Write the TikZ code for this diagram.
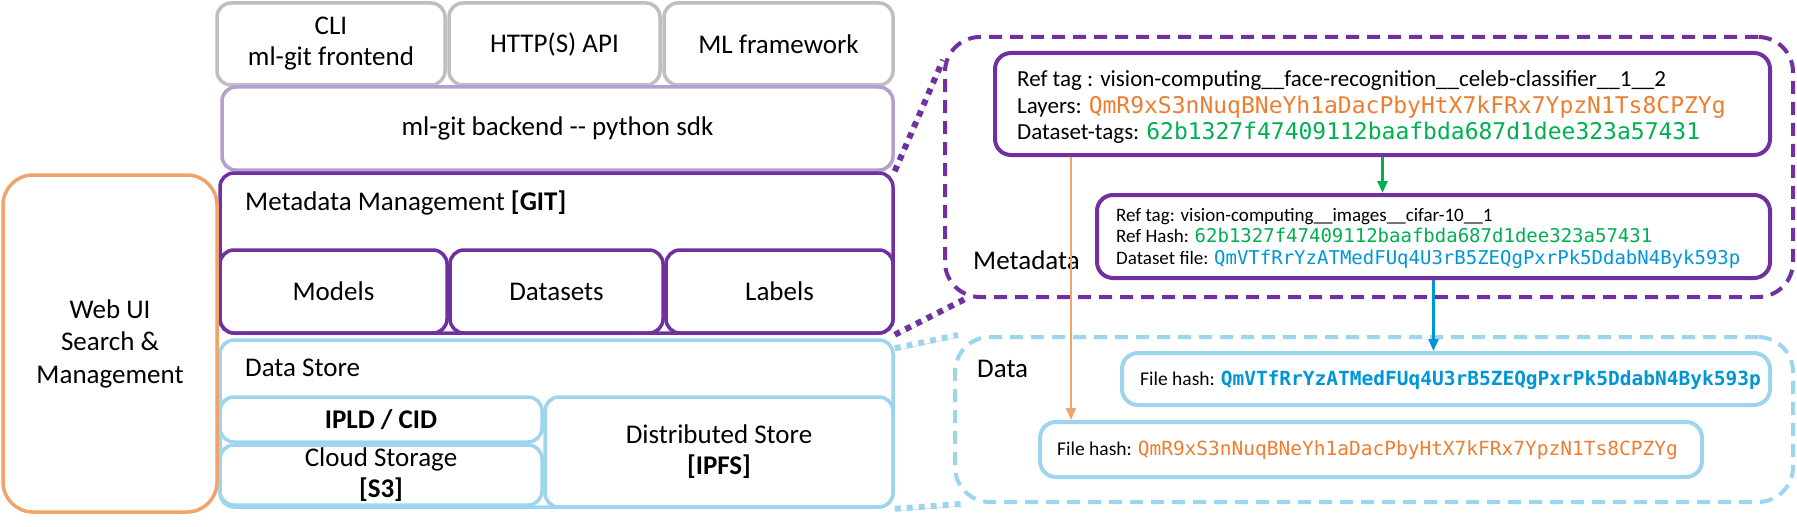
\documentclass[tikz,border=0pt]{standalone}
\usepackage{fontspec}
\setmainfont{Carlito}
\newfontfamily\hashfont{DejaVu Sans Mono}
\usepackage{tikz}
\usetikzlibrary{arrows.meta,positioning}

\definecolor{framegray}{RGB}{191,191,191}
\definecolor{lavender}{RGB}{180,160,204}
\definecolor{gitpurple}{RGB}{112,48,160}
\definecolor{storeblue}{RGB}{157,213,238}
\definecolor{uiorange}{RGB}{240,164,106}
\definecolor{hashorange}{RGB}{237,125,49}
\definecolor{hashgreen}{RGB}{0,176,80}
\definecolor{hashblue}{RGB}{0,150,214}

\newcommand{\hashtxt}[2]{{\hashfont\color{#1}#2}}

\begin{document}
\begin{tikzpicture}[
    x=1pt, y=-1pt,
    every node/.style={inner sep=0pt},
    layer/.style={draw, rounded corners=14pt, line width=3.5pt, align=center, font=\fontsize{27}{31}\selectfont},
    gbox/.style={layer, draw=framegray},
    lbox/.style={layer, draw=lavender},
    pbox/.style={layer, draw=gitpurple},
    bbox/.style={layer, draw=storeblue},
    obox/.style={layer, draw=uiorange, rounded corners=30pt},
    title/.style={anchor=west, font=\fontsize{27}{31}\selectfont},
    zoomframe/.style={draw, dash pattern=on 13pt off 8pt, line width=4pt, rounded corners=35pt},
    tagbox/.style={draw, line width=4pt, rounded corners=16pt},
    tagtext/.style={anchor=west, align=left},
    zoomline/.style={line width=6pt, dash pattern=on 6pt off 6pt,
        preaction={draw=black!22, transform canvas={xshift=1.5pt, yshift=-2pt}}},
    arrow/.style={-{Triangle[length=12pt,width=10pt]}, line width=2.5pt}
]
    \useasboundingbox (0,0) rectangle (1797,527);

    % ml-git stack
    \node[gbox, minimum width=228pt, minimum height=82pt] (cli) at (331,44) {CLI\\ml-git frontend};
    \node[gbox, minimum width=211pt, minimum height=82pt] (http) at (554.5,44) {HTTP(S) API};
    \node[gbox, minimum width=229pt, minimum height=82pt] (mlfw) at (778.5,44) {ML framework};
    \node[lbox, minimum width=671pt, minimum height=83pt] (backend) at (557.5,128.5) {ml-git backend -{}- python sdk};

    \node[pbox, minimum width=673pt, minimum height=160pt] (meta) at (556.5,253) {};
    \node[title] (metatitle) at (245,203) {Metadata Management \textbf{[GIT]}};
    \node[pbox, minimum width=227pt, minimum height=83pt] (models) at (333.5,291.5) {Models};
    \node[pbox, minimum width=213pt, minimum height=83pt] (datasets) at (556.5,291.5) {Datasets};
    \node[pbox, minimum width=227pt, minimum height=83pt] (labels) at (779.5,291.5) {Labels};

    \node[bbox, minimum width=673pt, minimum height=167pt] (store) at (556.5,423.5) {};
    \node[title] (storetitle) at (245,368) {Data Store};
    \node[bbox, minimum width=322pt, minimum height=45pt] (ipld) at (381,419.5) {\textbf{IPLD / CID}};
    \node[bbox, minimum width=322pt, minimum height=60pt] (cloud) at (381,475) {Cloud Storage\\\textbf{[S3]}};
    \node[bbox, minimum width=348pt, minimum height=110pt] (dist) at (719,452) {Distributed Store\\\textbf{[IPFS]}};

    \node[obox, minimum width=214pt, minimum height=337pt, font=\fontsize{27}{32.5}\selectfont] (webui) at (110,343.5) {Web UI\\Search \&\\Management};

    % metadata detail
    \node[zoomframe, draw=gitpurple, minimum width=848pt, minimum height=260pt] (metaframe) at (1369,167) {};
    \node[title] (metalabel) at (973,260) {Metadata};
    \node[tagbox, draw=gitpurple, minimum width=775pt, minimum height=102pt] (reftag) at (1382.5,104) {};
    \node[tagtext, font=\fontsize{23}{26.5}\selectfont] (reftagtxt) at (1017,107) {%
        Ref tag : vision-computing\_\_face-recognition\_\_celeb-classifier\_\_1\_\_2\\
        Layers: \hashtxt{hashorange}{QmR9xS3nNuqBNeYh1aDacPbyHtX7kFRx7YpzN1Ts8CPZYg}\\
        Dataset-tags: \hashtxt{hashgreen}{62b1327f47409112baafbda687d1dee323a57431}};
    \node[tagbox, draw=gitpurple, minimum width=673pt, minimum height=83pt] (cifar) at (1433.5,236.5) {};
    \node[tagtext, font=\fontsize{19}{21.5}\selectfont] (cifartxt) at (1116,238) {%
        Ref tag: vision-computing\_\_images\_\_cifar-10\_\_1\\
        Ref Hash: \hashtxt{hashgreen}{62b1327f47409112baafbda687d1dee323a57431}\\
        Dataset file: \hashtxt{hashblue}{QmVTfRrYzATMedFUq4U3rB5ZEQgPxrPk5DdabN4Byk593p}};

    % data detail
    \node[zoomframe, draw=storeblue, minimum width=838pt, minimum height=165pt] (dataframe) at (1374,419.5) {};
    \node[title] (datalabel) at (977,369) {Data};
    \node[tagbox, draw=storeblue, minimum width=648pt, minimum height=52pt] (fileblue) at (1446,379) {};
    \node[tagtext, font=\fontsize{19.5}{22}\selectfont] (filebluetxt) at (1140,380) {File hash: \hashtxt{hashblue}{\bfseries QmVTfRrYzATMedFUq4U3rB5ZEQgPxrPk5DdabN4Byk593p}};
    \node[tagbox, draw=storeblue, minimum width=662pt, minimum height=55pt] (fileorange) at (1371,449.5) {};
    \node[tagtext, font=\fontsize{19.5}{22}\selectfont] (fileorangetxt) at (1057,450) {File hash: \hashtxt{hashorange}{QmR9xS3nNuqBNeYh1aDacPbyHtX7kFRx7YpzN1Ts8CPZYg}};

    % zoom connectors
    \draw[zoomline, draw=gitpurple] (meta.north east) -- ([yshift=-25pt]metaframe.north west);
    \draw[zoomline, draw=gitpurple] (meta.south east) -- ([xshift=22pt]metaframe.south west);
    \draw[zoomline, draw=storeblue] ([yshift=-10pt]store.north east) -- ([xshift=5pt]dataframe.north west);
    \draw[zoomline, draw=storeblue] (store.south east) -- ([xshift=8pt]dataframe.south west);

    % references
    \coordinate (layerstop) at ([xshift=78pt]reftag.south west);
    \draw[arrow, draw=hashgreen, fill=hashgreen] (reftag.south) -- (reftag.south |- cifar.north);
    \draw[arrow, draw=hashblue, fill=hashblue] (cifar.south) -- (cifar.south |- fileblue.north);
    \draw[arrow, draw=uiorange, fill=uiorange, line width=2pt] (layerstop) -- (layerstop |- fileorange.north);
\end{tikzpicture}
\end{document}
